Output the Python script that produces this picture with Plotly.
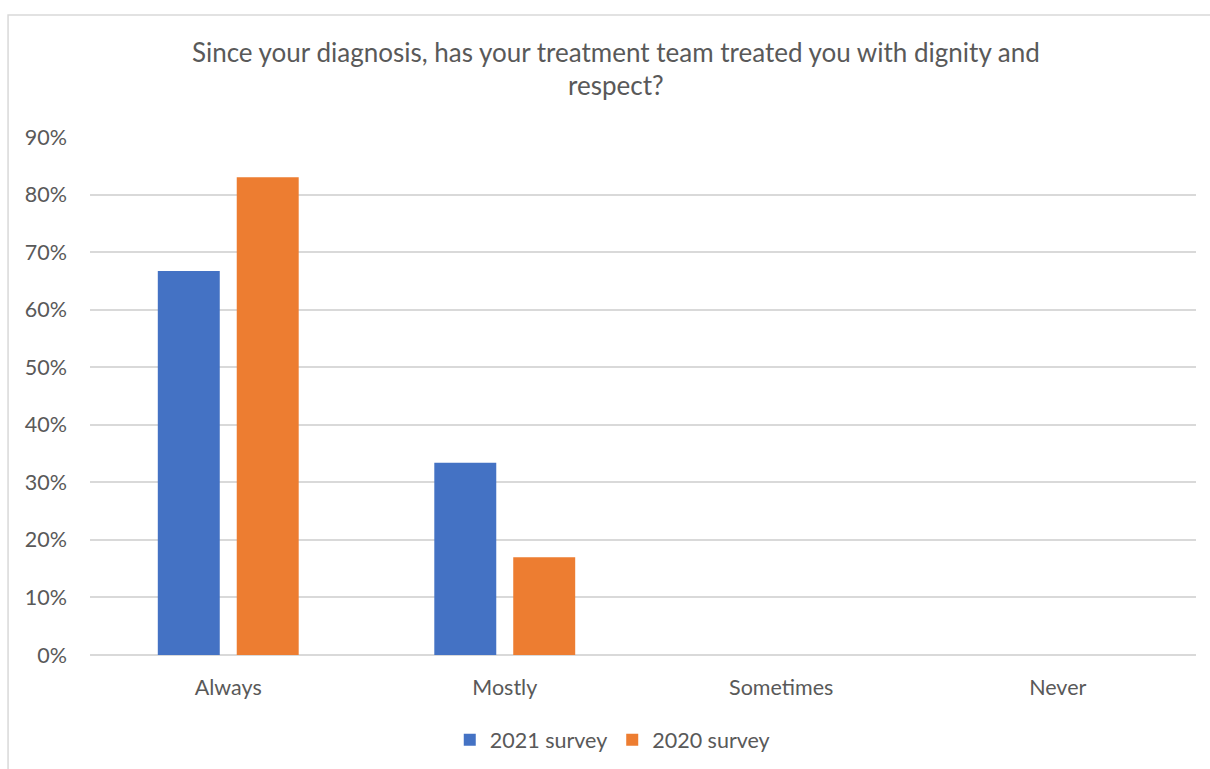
import plotly.graph_objects as go

# Survey responses (share of respondents)
categories = ["Always", "Mostly", "Sometimes", "Never"]
survey_2021 = [0.667, 0.334, 0.0, 0.0]
survey_2020 = [0.830, 0.170, 0.0, 0.0]
series_names = ["2021 survey", "2020 survey"]
y_ticks = [0, 0.1, 0.2, 0.3, 0.4, 0.5, 0.6, 0.7, 0.8, 0.9]

FONT = "Lato"
TEXT = "#595959"
GRID = "#d9d9d9"

fig = go.Figure()
fig.add_trace(go.Bar(x=categories, y=survey_2021, name=series_names[0],
                     marker=dict(color="#4472c4", line=dict(width=0))))
fig.add_trace(go.Bar(x=categories, y=survey_2020, name=series_names[1],
                     marker=dict(color="#ed7d31", line=dict(width=0))))

fig.update_layout(
    width=1210, height=769,
    margin=dict(l=90, r=14, t=137, b=114),
    paper_bgcolor="white", plot_bgcolor="white",
    font=dict(family=FONT, color=TEXT, size=21.5),
    title=dict(
        text="Since your diagnosis, has your treatment team treated you with dignity and<br>respect?",
        x=0.509, xanchor="center", xref="container",
        y=0.92, yanchor="top", yref="container",
        font=dict(family=FONT, size=26, color=TEXT),
    ),
    barmode="group", bargap=0.429, bargroupgap=0.215,
    showlegend=True,
    legend=dict(orientation="h", x=0.506, xanchor="center", xref="container",
                y=0.038, yanchor="middle", yref="container",
                font=dict(size=21.5, color=TEXT), itemwidth=30,
                traceorder="normal"),
    xaxis=dict(showgrid=False, showline=False, ticks="", tickfont=dict(size=21.5, color=TEXT),
               ticklabelstandoff=17),
    yaxis=dict(range=[0, 0.9], tickvals=y_ticks, tickformat=".0%",
               showgrid=True, gridcolor=GRID, gridwidth=1.5,
               zeroline=True, zerolinecolor=GRID, zerolinewidth=1.5,
               showline=False, ticks="", ticklabelstandoff=22,
               tickfont=dict(size=21.5, color=TEXT)),
    shapes=[dict(type="rect", xref="paper", yref="paper",
                 x0=-0.0741, x1=1.2, y0=-0.5, y1=1.2355,
                 line=dict(color=GRID, width=1.5), fillcolor="rgba(0,0,0,0)",
                 layer="below")],
)

fig.write_html("out.html")
